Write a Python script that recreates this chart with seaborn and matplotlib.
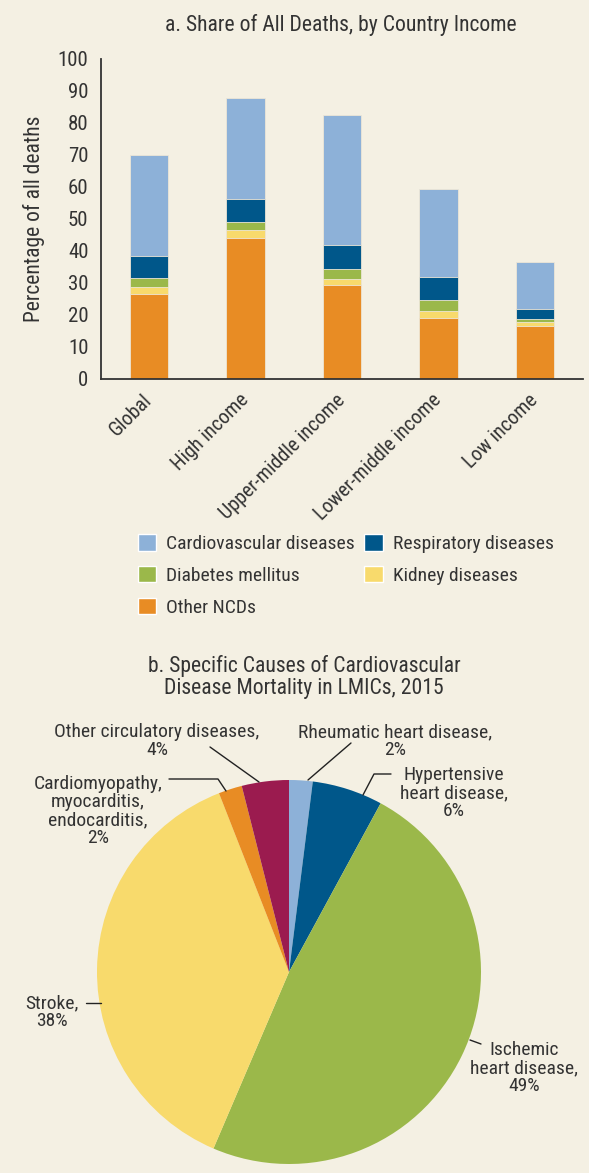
#%%

import pandas as pd
import numpy as np
import matplotlib.pyplot as plt
from matplotlib.patches import Patch
import seaborn as sns

# %%

# data
countries = ['Global', 'High income', 'Upper-middle income', 'Lower-middle income', 'Low income']
other_ncds = [26.7, 44.2, 29.4, 19.2, 16.5]
kidney = [2.1, 2.3, 2.0, 2.2, 1.2]
diabetes = [2.9, 2.6, 2.9, 3.2, 1.2]
respiratory = [6.8, 7.1, 7.6, 7.2, 2.9]
cardiovascular = [31.5, 31.5, 40.5, 27.6, 14.9]

causes = ['Rheumatic heart disease', 'Hypertensive heart disease', 'Ischemic heart disease',
          'Stroke', 'Cardiomyopathy, myocarditis, endocarditis', 'Other circulatory diseases']
shares = [2, 6, 49, 38, 2, 4]
pie_labels = ['Rheumatic heart disease,\n2%', 'Hypertensive\nheart disease,\n6%',
              'Ischemic\nheart disease,\n49%', 'Stroke,\n38%',
              'Cardiomyopathy,\nmyocarditis,\nendocarditis,\n2%', 'Other circulatory diseases,\n4%']

#%%

bg = '#f4f0e3'
txt = '#333333'
c_cvd = '#8db1d8'
c_resp = '#00578a'
c_diab = '#9bb84a'
c_kid = '#f8da6c'
c_oth = '#e88c24'
c_circ = '#9b1b4f'

sns.set_style('white')
plt.rcParams['font.family'] = ['Roboto Condensed', 'DejaVu Sans']
plt.rcParams['text.color'] = txt

df = pd.DataFrame({'country': countries, 'other': other_ncds, 'kidney': kidney,
                   'diabetes': diabetes, 'respiratory': respiratory, 'cvd': cardiovascular})
# cumulative heights, drawn tallest first so the smaller ones overlay
df['c_oth'] = df['other']
df['c_kid'] = df['c_oth'] + df['kidney']
df['c_diab'] = df['c_kid'] + df['diabetes']
df['c_resp'] = df['c_diab'] + df['respiratory']
df['c_cvd'] = df['c_resp'] + df['cvd']

fig = plt.figure(figsize=(5.89, 11.73), dpi=100)
fig.patch.set_facecolor(bg)

W, H = 589, 1173
ax = fig.add_axes([101 / W, 1 - 379 / H, 482 / W, 320 / H])
ax.set_facecolor(bg)

layers = [('c_cvd', c_cvd, 'Cardiovascular diseases'),
          ('c_resp', c_resp, 'Respiratory diseases'),
          ('c_diab', c_diab, 'Diabetes mellitus'),
          ('c_kid', c_kid, 'Kidney diseases'),
          ('c_oth', c_oth, 'Other NCDs')]
for col, color, lab in layers:
    sns.barplot(data=df, x='country', y=col, color=color, width=0.4, ax=ax,
                edgecolor='#ede6d6', linewidth=0.6, saturation=1)

ax.set_xlim(-0.5, 4.5)
ax.set_ylim(0, 100)
ax.set_yticks(range(0, 101, 10))
ax.set_xticks(range(5))
ax.set_xticks(np.arange(-0.5, 5, 1), minor=True)
ax.set_xticklabels(countries, rotation=45, ha='right', va='center', rotation_mode='anchor')
ax.tick_params(axis='x', which='major', length=0, pad=13, labelsize=14.5, labelcolor=txt)
ax.tick_params(axis='x', which='minor', length=6, width=1.2, color='#333333', direction='out')
ax.tick_params(axis='y', length=6, width=1.2, color='#333333', direction='out', pad=3,
               labelsize=15, labelcolor=txt)
sns.despine(ax=ax)
for s in ['left', 'bottom']:
    ax.spines[s].set_color('#333333')
    ax.spines[s].set_linewidth(1.3)
ax.set_xlabel('')
ax.set_ylabel('Percentage of all deaths', fontsize=15.5, color=txt, labelpad=9)

fig.text(341 / W, 1 - 25 / H, 'a. Share of All Deaths, by Country Income',
         ha='center', va='center', fontsize=15.6, color=txt)

# legend
order = [0, 2, 4, 1, 3]
handles = [Patch(facecolor=layers[i][1], label=layers[i][2]) for i in order]
fig.legend(handles=handles, ncol=2, loc='upper left', bbox_to_anchor=(130 / W, 1 - 526 / H),
           frameon=False, fontsize=14, handlelength=0.95, handleheight=0.95,
           handletextpad=0.5, columnspacing=0.5, labelspacing=0.66, borderaxespad=0,
           labelcolor=txt)

#%%

fig.text(304 / W, 1 - 677 / H, 'b. Specific Causes of Cardiovascular\nDisease Mortality in LMICs, 2015',
         ha='center', va='center', fontsize=15.6, color=txt, linespacing=1.1)

cx, cy, r = 289, 972, 192
ax2 = fig.add_axes([(cx - r) / W, (H - cy - r) / H, 2 * r / W, 2 * r / H])
ax2.pie(shares, colors=[c_cvd, c_resp, c_diab, c_kid, c_oth, c_circ], startangle=90,
        counterclock=False, radius=1, wedgeprops=dict(linewidth=0))
ax2.set_xlim(-1, 1)
ax2.set_ylim(-1, 1)
ax2.set_aspect('equal')
ax2.set_facecolor('none')


def to_data(px, py):
    return (px - cx) / r, (cy - py) / r


# label centres and leader lines in figure pixels (layout only)
label_pos = [(395, 741), (454, 793), (524, 1068), (52, 1012), (98, 811), (157, 741)]
leaders = [[(351, 743), (308, 780)],
           [(391, 774), (374, 774), (363, 795)],
           [(481, 1044), (470, 1040)],
           [(86, 1003), (101, 1003)],
           [(169, 779), (218, 779), (226, 791)],
           [(210, 747), (259, 782)]]
for lab, (px, py), pts in zip(pie_labels, label_pos, leaders):
    fig.text(px / W, 1 - py / H, lab, ha='center', va='center', fontsize=14,
             color=txt, linespacing=1.02)
    xs, ys = zip(*[to_data(a, b) for a, b in pts])
    ax2.plot(xs, ys, color='#222222', lw=1.0, clip_on=False)

plt.savefig('out.png', dpi=100, facecolor=bg)
